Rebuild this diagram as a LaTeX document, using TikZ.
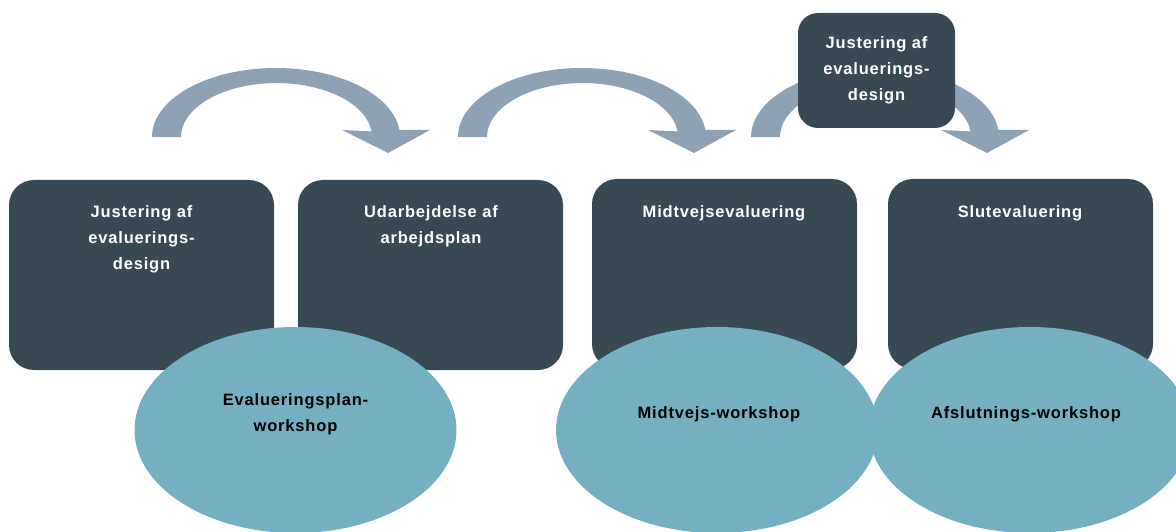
\documentclass[tikz,border=0pt]{standalone}
\usepackage{fontspec}
\setmainfont{Liberation Sans}
\newfontfamily\lblfont[LetterSpace=5]{Liberation Sans}
\usetikzlibrary{shapes.geometric}
\definecolor{boxc}{RGB}{56,73,84}
\definecolor{ellc}{RGB}{116,176,193}
\definecolor{arrc}{RGB}{142,162,182}
\tikzset{
  stagebox/.style={rectangle, fill=boxc, rounded corners=25pt, minimum width=265pt, minimum height=190pt, inner sep=0pt},
  topbox/.style={rectangle, fill=boxc, rounded corners=20pt, minimum width=157pt, minimum height=115pt, inner sep=0pt},
  wsell/.style={ellipse, fill=ellc, minimum width=322pt, minimum height=206pt, inner sep=0pt},
  whitetxt/.style={text=white, font=\lblfont\bfseries\fontsize{16.5}{26}\selectfont, align=center, inner sep=0pt},
  blacktxt/.style={text=black, font=\lblfont\bfseries\fontsize{16.5}{26}\selectfont, align=center, inner sep=0pt},
  bigarrow/.style={fill=arrc, draw=none}
}
\begin{document}
\begin{tikzpicture}[x=1pt,y=-1pt]
\useasboundingbox (0,0) rectangle (1176,532);
% curved arrows
\foreach \cx in {276,582,875}{
  \begin{scope}[shift={(\cx,0)}]
  \fill[bigarrow] (-124,137) arc[start angle=180,end angle=6,x radius=124pt,y radius=69pt]
     -- (154,130) -- (112,153) -- (66,130) -- (95.5,131.4)
     arc[start angle=6,end angle=180,x radius=95.5pt,y radius=54pt] -- cycle;
  \end{scope}
}
% top box
\node[topbox] (t) at (876.5,70.5) {};
\node[whitetxt] (tt) at (t.center) {Justering af\\evaluerings-\\design};
% stage boxes
\node[stagebox] (b1) at (141.5,275) {};
\node[stagebox] (b2) at (430.5,275) {};
\node[stagebox] (b3) at (724.5,274) {};
\node[stagebox] (b4) at (1020.5,274) {};
\node[whitetxt, anchor=north] (b1t) at (141.5,205) {Justering af\\evaluerings-\\design};
\node[whitetxt, anchor=north] (b2t) at (431,205) {Udarbejdelse af\\arbejdsplan};
\node[whitetxt, anchor=north] (b3t) at (724,205) {Midtvejsevaluering};
\node[whitetxt, anchor=north] (b4t) at (1020,205) {Slutevaluering};
% workshop ellipses
\node[wsell] (e1) at (295.5,430) {};
\node[wsell] (e2) at (717,430) {};
\node[wsell] (e3) at (1030,430) {};
\node[blacktxt, anchor=north] (e1t) at (295.5,393) {Evalueringsplan-\\workshop};
\node[blacktxt, anchor=north] (e2t) at (719,406) {Midtvejs-workshop};
\node[blacktxt, anchor=north] (e3t) at (1026,406) {Afslutnings-workshop};
\end{tikzpicture}
\end{document}
